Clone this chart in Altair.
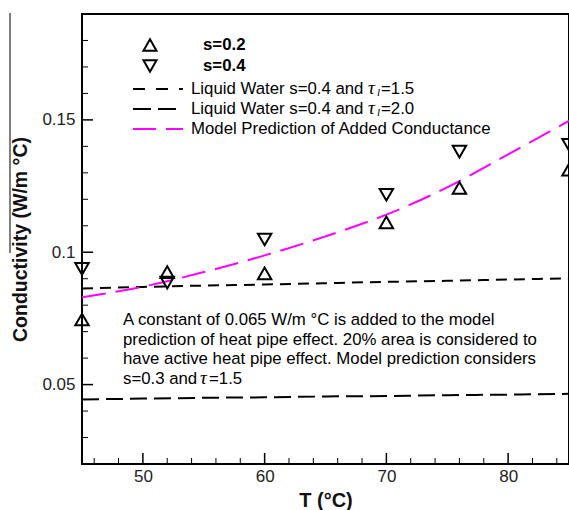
import altair as alt
import pandas as pd

# ---- data ----
T_pts = [45, 52, 60, 70, 76, 85]
k_s02 = [0.0746, 0.0925, 0.0920, 0.1113, 0.1243, 0.1312]
k_s04 = [0.0937, 0.0885, 0.1048, 0.1217, 0.1380, 0.1406]

T_line = [45, 50, 55, 60, 65, 70, 75, 80, 85]
k_water15 = [0.0863, 0.0869, 0.0874, 0.0878, 0.0883, 0.0888, 0.0892, 0.0897, 0.0901]
k_water20 = [0.0444, 0.0447, 0.0450, 0.0452, 0.0455, 0.0457, 0.0460, 0.0462, 0.0465]
k_model = [0.0830, 0.0870, 0.0925, 0.0988, 0.1060, 0.1142, 0.1245, 0.1370, 0.1496]

x_major = [50, 60, 70, 80]
x_minor = [46, 48, 52, 54, 56, 58, 62, 64, 66, 68, 72, 74, 76, 78, 82, 84]
y_major = [0.05, 0.10, 0.15]
y_minor = [0.02, 0.03, 0.04, 0.06, 0.07, 0.08, 0.09, 0.11, 0.12, 0.13, 0.14, 0.16, 0.17, 0.18, 0.19]

legend_pts = ["s=0.2", "s=0.4"]
legend_water = "Liquid Water s=0.4 and"
legend_tau_vals = ["=1.5", "=2.0"]
legend_model = "Model Prediction of Added Conductance"
note_lines = ["A constant of 0.065 W/m \u00b0C is added to the model",
              "prediction of heat pipe effect. 20% area is considered to",
              "have active heat pipe effect. Model prediction considers"]
note_last = ["s=0.3 and", "=1.5"]
TAU = "\u03c4"

FONT = "Liberation Sans"
SERIF = "Liberation Serif"

xs = alt.Scale(domain=[45, 85], nice=False, zero=False)
ys = alt.Scale(domain=[0.02, 0.19], nice=False, zero=False)

xaxis = alt.Axis(values=x_major, ticks=False, domain=False, grid=False,
                 labelFont=FONT, labelFontSize=17, labelColor="#222", labelPadding=4,
                 title="T (\u00b0C)", titleFont=FONT, titleFontSize=20,
                 titleFontWeight="bold", titleColor="#111", titlePadding=6)
yaxis = alt.Axis(values=y_major, format=".2~f", ticks=False, domain=False, grid=False,
                 labelFont=FONT, labelFontSize=17, labelColor="#222", labelPadding=7,
                 title="Conductivity (W/m \u00b0C)", titleFont=FONT, titleFontSize=19.5,
                 titleFontWeight="bold", titleColor="#111", titlePadding=11)

X = alt.X("T:Q", scale=xs, axis=xaxis)
Y = alt.Y("k:Q", scale=ys, axis=yaxis)

pts02 = pd.DataFrame({"T": T_pts, "k": k_s02})
pts04 = pd.DataFrame({"T": T_pts, "k": k_s04})
w15 = pd.DataFrame({"T": T_line, "k": k_water15})
w20 = pd.DataFrame({"T": T_line, "k": k_water20})
mod = pd.DataFrame({"T": T_line, "k": k_model})

one = pd.DataFrame({"a": [0]})

layers = []


def txt(text, x, y, size=16.8, font=FONT, weight="normal", style="normal", dy=0):
    return (alt.Chart(one)
            .mark_text(text=text, font=font, fontSize=size, fontWeight=weight, fontStyle=style,
                       align="left", baseline="middle", color="black", dy=dy)
            .encode(x=alt.value(x), y=alt.value(y)))


# inward ticks
layers.append(alt.Chart(pd.DataFrame({"k": y_major})).mark_rule(color="black", strokeWidth=1.5)
              .encode(y=Y, x=alt.value(0), x2=alt.value(11)))
layers.append(alt.Chart(pd.DataFrame({"k": y_minor})).mark_rule(color="black", strokeWidth=1)
              .encode(y=Y, x=alt.value(0), x2=alt.value(6)))
layers.append(alt.Chart(pd.DataFrame({"T": x_major})).mark_rule(color="black", strokeWidth=1.5)
              .encode(x=X, y=alt.value(450), y2=alt.value(439)))
layers.append(alt.Chart(pd.DataFrame({"T": x_minor})).mark_rule(color="black", strokeWidth=1)
              .encode(x=X, y=alt.value(450), y2=alt.value(444)))

# lines
layers.append(alt.Chart(w15).mark_line(color="black", strokeWidth=2, strokeDash=[11, 7],
                                       interpolate="monotone").encode(x=X, y=Y))
layers.append(alt.Chart(w20).mark_line(color="black", strokeWidth=2, strokeDash=[17, 7],
                                       interpolate="monotone").encode(x=X, y=Y))
layers.append(alt.Chart(mod).mark_line(color="#ff00ff", strokeWidth=2, strokeDash=[24, 10],
                                       interpolate="monotone").encode(x=X, y=Y))

# points
layers.append(alt.Chart(pts02).mark_point(shape="triangle-up", size=180, filled=False,
                                          color="black", strokeWidth=2, opacity=1).encode(x=X, y=Y))
layers.append(alt.Chart(pts04).mark_point(shape="triangle-down", size=180, filled=False,
                                          color="black", strokeWidth=2, opacity=1).encode(x=X, y=Y))

# legend
for shape, label, yy in [("triangle-up", legend_pts[0], 31), ("triangle-down", legend_pts[1], 52)]:
    layers.append(alt.Chart(one).mark_point(shape=shape, size=170, filled=False, color="black",
                                            strokeWidth=2, opacity=1)
                  .encode(x=alt.value(68), y=alt.value(yy)))
    layers.append(txt(label, 121, yy, weight="bold"))

for yy, dash, val in [(75, [12, 11], legend_tau_vals[0]), (95, [18, 7], legend_tau_vals[1])]:
    layers.append(alt.Chart(one).mark_rule(color="black", strokeWidth=2, strokeDash=dash)
                  .encode(x=alt.value(51), x2=alt.value(101), y=alt.value(yy)))
    layers.append(txt(legend_water, 109, yy))
    layers.append(txt(TAU, 286, yy, size=19, font=SERIF, style="italic", dy=-1))
    layers.append(txt("l", 295, yy, size=11, font=SERIF, style="italic", dy=4))
    layers.append(txt(val, 299, yy))

layers.append(alt.Chart(one).mark_rule(color="#ff00ff", strokeWidth=2, strokeDash=[23, 10])
              .encode(x=alt.value(51), x2=alt.value(101), y=alt.value(115)))
layers.append(txt(legend_model, 109, 115))

# annotation
layers.append(alt.Chart(one).mark_text(text=note_lines, font=FONT, fontSize=16.8, lineHeight=19.7,
                                       align="left", baseline="middle", color="black")
              .encode(x=alt.value(41), y=alt.value(306)))
layers.append(txt(note_last[0], 41, 365.1))
layers.append(txt(TAU, 118, 365.1, size=19, font=SERIF, style="italic", dy=-1))
layers.append(txt(note_last[1], 127, 365.1))

# thin stray line at far left of the reference
layers.append(alt.Chart(one).mark_rule(color="black", strokeWidth=1)
              .encode(x=alt.value(-72), y=alt.value(-1), y2=alt.value(239)))

chart = alt.layer(*layers).properties(
    width=487, height=450,
    padding={"left": 82, "top": 14, "right": 0, "bottom": 46},
    autosize="none",
).configure_view(stroke="black", strokeWidth=2)

chart.save("out.html", embed_options={"renderer": "svg", "actions": False})
